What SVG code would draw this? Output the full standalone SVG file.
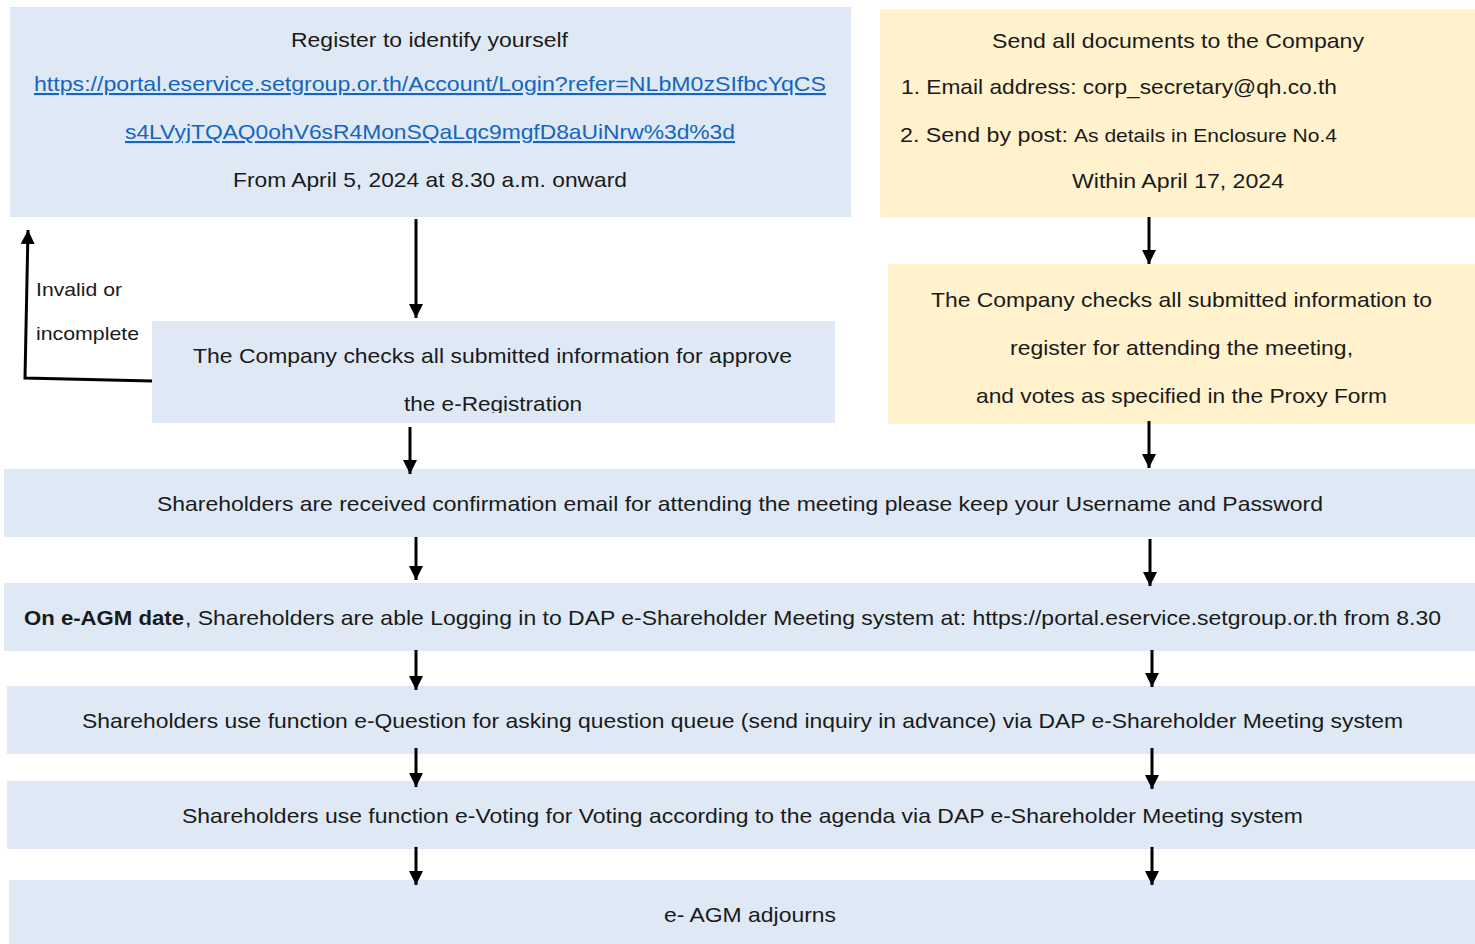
<svg xmlns="http://www.w3.org/2000/svg" width="1475" height="944" viewBox="0 0 1475 944">
<style>
.b{fill:#DEE9F5}
.y{fill:#FFF2CC}
text{font-family:"Liberation Sans",Arial,sans-serif;font-size:21px;fill:#1a1a1a}
.c{text-anchor:middle}
.lnk{fill:#1565C0;text-decoration:underline}
.sm{font-size:19px}
.bd{font-weight:bold}
.con line,.con path{stroke:#000;stroke-width:3;fill:none}
</style>
<defs>
<marker id="ah" markerUnits="userSpaceOnUse" markerWidth="14" markerHeight="16" refX="14" refY="7" orient="auto">
<path d="M0,0 L14,7 L0,14 Z" fill="#000"/>
</marker>
<clipPath id="clip3"><rect x="152" y="321" width="683" height="92"/></clipPath>
</defs>
<g id="n1">
<rect class="b" x="10" y="7" width="841" height="210"/>
<text x="291" y="47" textLength="277" lengthAdjust="spacingAndGlyphs">Register to identify yourself</text>
<text class="lnk" x="34" y="91" textLength="792" lengthAdjust="spacingAndGlyphs">https://portal.eservice.setgroup.or.th/Account/Login?refer=NLbM0zSIfbcYqCS</text>
<text class="lnk" x="125" y="139" textLength="610" lengthAdjust="spacingAndGlyphs">s4LVyjTQAQ0ohV6sR4MonSQaLqc9mgfD8aUiNrw%3d%3d</text>
<text x="233" y="187" textLength="394" lengthAdjust="spacingAndGlyphs">From April 5, 2024 at 8.30 a.m. onward</text>
</g>
<g id="n2">
<rect class="y" x="880" y="9" width="595" height="208"/>
<text x="992" y="48" textLength="372" lengthAdjust="spacingAndGlyphs">Send all documents to the Company</text>
<text x="901" y="94" textLength="436" lengthAdjust="spacingAndGlyphs">1. Email address: corp_secretary@qh.co.th</text>
<text x="900" y="142"><tspan textLength="168" lengthAdjust="spacingAndGlyphs">2. Send by post:</tspan><tspan class="sm" x="1074" textLength="263" lengthAdjust="spacingAndGlyphs">As details in Enclosure No.4</tspan></text>
<text x="1072" y="188" textLength="212" lengthAdjust="spacingAndGlyphs">Within April 17, 2024</text>
</g>
<g id="n3">
<rect class="b" x="152" y="321" width="683" height="102"/>
<text x="193" y="363" textLength="599" lengthAdjust="spacingAndGlyphs">The Company checks all submitted information for approve</text>
<text x="404" y="411" textLength="178" lengthAdjust="spacingAndGlyphs" clip-path="url(#clip3)">the e-Registration</text>
</g>
<g id="n4">
<rect class="y" x="888" y="264" width="587" height="160"/>
<text x="931" y="307" textLength="501" lengthAdjust="spacingAndGlyphs">The Company checks all submitted information to</text>
<text x="1010" y="355" textLength="343" lengthAdjust="spacingAndGlyphs">register for attending the meeting,</text>
<text x="976" y="403" textLength="411" lengthAdjust="spacingAndGlyphs">and votes as specified in the Proxy Form</text>
</g>
<g id="n5">
<rect class="b" x="4" y="469" width="1471" height="68"/>
<text x="157" y="511" textLength="1166" lengthAdjust="spacingAndGlyphs">Shareholders are received confirmation email for attending the meeting please keep your Username and Password</text>
</g>
<g id="n6">
<rect class="b" x="4" y="583" width="1471" height="68"/>
<text x="24" y="625"><tspan class="bd" textLength="160" lengthAdjust="spacingAndGlyphs">On e-AGM date</tspan><tspan x="185" textLength="1256" lengthAdjust="spacingAndGlyphs">, Shareholders are able Logging in to DAP e-Shareholder Meeting system at: https://portal.eservice.setgroup.or.th from 8.30</tspan></text>
</g>
<g id="n7">
<rect class="b" x="7" y="686" width="1468" height="68"/>
<text x="82" y="728" textLength="1321" lengthAdjust="spacingAndGlyphs">Shareholders use function e-Question for asking question queue (send inquiry in advance) via DAP e-Shareholder Meeting system</text>
</g>
<g id="n8">
<rect class="b" x="7" y="781" width="1468" height="68"/>
<text x="182" y="823" textLength="1121" lengthAdjust="spacingAndGlyphs">Shareholders use function e-Voting for Voting according to the agenda via DAP e-Shareholder Meeting system</text>
</g>
<g id="n9">
<rect class="b" x="9" y="880" width="1466" height="64"/>
<text x="664" y="922" textLength="172" lengthAdjust="spacingAndGlyphs">e- AGM adjourns</text>
</g>
<g id="label">
<text class="sm" x="36" y="296" textLength="86" lengthAdjust="spacingAndGlyphs">Invalid or</text>
<text class="sm" x="36" y="340" textLength="103" lengthAdjust="spacingAndGlyphs">incomplete</text>
</g>
<g class="con">
<line x1="416" y1="219" x2="416" y2="318" marker-end="url(#ah)"/>
<line x1="1149" y1="217" x2="1149" y2="264" marker-end="url(#ah)"/>
<line x1="410" y1="427" x2="410" y2="474" marker-end="url(#ah)"/>
<line x1="1149" y1="421" x2="1149" y2="468" marker-end="url(#ah)"/>
<line x1="416" y1="537" x2="416" y2="580" marker-end="url(#ah)"/>
<line x1="1150" y1="539" x2="1150" y2="586" marker-end="url(#ah)"/>
<line x1="416" y1="650" x2="416" y2="690" marker-end="url(#ah)"/>
<line x1="1152" y1="650" x2="1152" y2="687" marker-end="url(#ah)"/>
<line x1="416" y1="748" x2="416" y2="787" marker-end="url(#ah)"/>
<line x1="1152" y1="748" x2="1152" y2="789" marker-end="url(#ah)"/>
<line x1="416" y1="847" x2="416" y2="885" marker-end="url(#ah)"/>
<line x1="1152" y1="847" x2="1152" y2="885" marker-end="url(#ah)"/>
<path d="M152,381 L25,378 L28,230" marker-end="url(#ah)"/>
</g>
</svg>
